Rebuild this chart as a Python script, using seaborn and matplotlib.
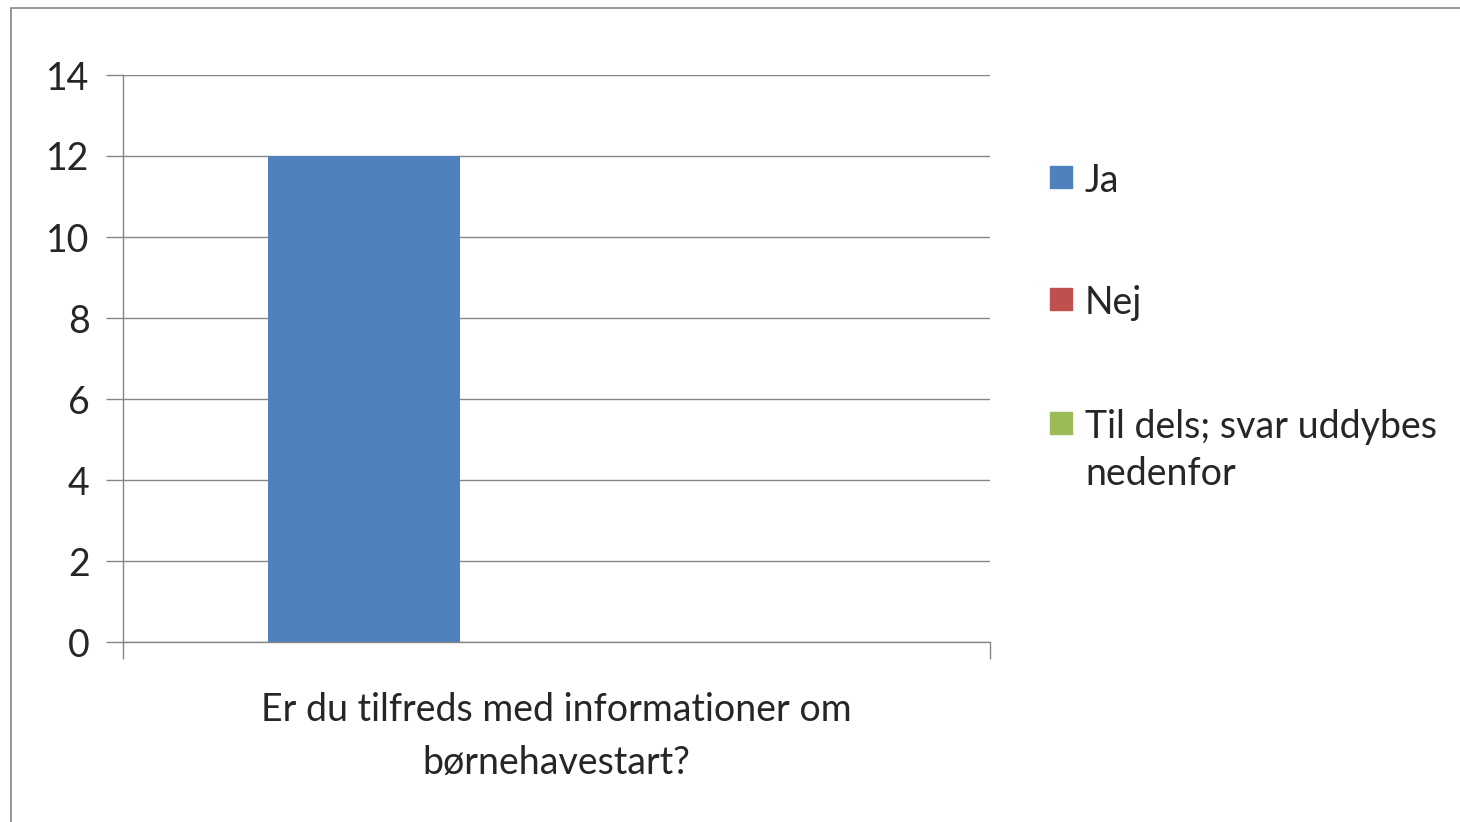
import textwrap
import pandas as pd
import matplotlib.pyplot as plt
import seaborn as sns
from matplotlib.patches import Rectangle

# data
question = 'Er du tilfreds med informationer om børnehavestart?'
answers = ['Ja', 'Nej', 'Til dels; svar uddybes nedenfor']
counts = [12, 0, 0]
colors = ['#4F81BD', '#C0504D', '#9BBB59']

df = pd.DataFrame({'Spørgsmål': [question] * len(answers),
                   'Svar': answers,
                   'Antal': counts})

sns.set_style('white')
plt.rcParams['font.family'] = ['Lato', 'DejaVu Sans']
fs = 27
W, H = 1460, 822

fig = plt.figure(figsize=(14.6, 8.22), dpi=100)
ax = fig.add_axes([123 / W, 1 - 642 / H, 867 / W, 567 / H])

sns.barplot(data=df, x='Spørgsmål', y='Antal', hue='Svar', palette=colors,
            width=2 / 3, saturation=1, linewidth=0, legend=False, ax=ax)

grid_col = '#868686'
ax.set_xlim(-0.5, 0.5)
ax.set_ylim(0, 14)
ax.set_yticks(range(0, 15, 2))
ax.yaxis.grid(True, color=grid_col, lw=1)
ax.set_axisbelow(True)
ax.tick_params(axis='y', length=12, width=1, color=grid_col, direction='out',
               left=True, labelsize=fs, pad=12)
ax.set_xticks([0])
ax.set_xticklabels(['\n'.join(textwrap.wrap(question, 36))], fontsize=fs,
                   linespacing=1.6)
ax.tick_params(axis='x', length=0, pad=36)
ax.set_xticks([-0.5, 0.5], minor=True)
ax.tick_params(axis='x', which='minor', length=12, width=1, color=grid_col,
               direction='out', bottom=True)
ax.set_xlabel('')
ax.set_ylabel('')
for side in ['top', 'right']:
    ax.spines[side].set_visible(False)
for side in ['left', 'bottom']:
    ax.spines[side].set_color(grid_col)
    ax.spines[side].set_linewidth(1)

# legend drawn by hand so the square sits on the first line of a wrapped label
baselines = [192, 314, 438]
line_step = 47
for ans, col, yb in zip(answers, colors, baselines):
    fig.patches.append(Rectangle((1050 / W, 1 - (yb - 4) / H), 22 / W, 22 / H,
                                 transform=fig.transFigure, color=col))
    for i, line in enumerate(textwrap.wrap(ans, 22)):
        fig.text(1085 / W, 1 - (yb + i * line_step) / H, line, fontsize=fs,
                 va='baseline', ha='left')

# outer chart border
fig.patches.append(Rectangle((11 / W, -0.1), 1.2, 1.1 - 8 / H, transform=fig.transFigure,
                             fill=False, edgecolor=grid_col, lw=1.2))

fig.savefig('out.png', dpi=100)
